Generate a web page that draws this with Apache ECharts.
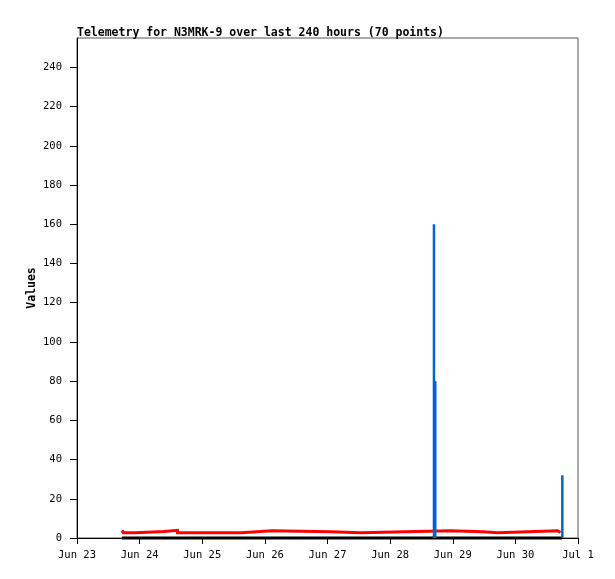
<!DOCTYPE html>
<html>
<head>
<meta charset="utf-8">
<script src="https://cdn.jsdelivr.net/npm/echarts@6/dist/echarts.min.js"></script>
<style>html,body{margin:0;padding:0;background:#fff}#c{width:615px;height:579px}</style>
</head>
<body>
<div id="c"></div>
<script>
// x values are hours since Jun 23 00:00
const xTickLabels = ['Jun 23','Jun 24','Jun 25','Jun 26','Jun 27','Jun 28','Jun 29','Jun 30','Jul 1'];
const redHours  = [17.2, 17.8, 22.5, 33.3, 38.5, 63.0, 74.8, 97.3, 108.7, 143.0, 155.6, 161.2, 184.2, 185.3];
const redValues = [3.9,  2.7,  3.3,  3.9,  2.7,  3.7,  3.2,  2.7,  3.7,   3.2,   2.7,   3.7,   2.8,   2.8];
const blackHours  = [17.2, 185.9];
const blackValues = [0, 0];
const blueHours  = [136.8, 137.3, 186.0];
const blueValues = [160, 80, 32];

// step-after: each value holds until the next sample time
function stepData(hs, vs) {
  const out = [];
  for (let i = 0; i < hs.length; i++) {
    out.push([hs[i], vs[i]]);
    if (i + 1 < hs.length) out.push([hs[i + 1], vs[i]]);
  }
  return out;
}

const mono = 'DejaVu Sans Mono';
const chart = echarts.init(document.getElementById('c'));
chart.setOption({
  animation: false,
  title: {
    text: 'Telemetry for N3MRK-9 over last 240 hours (70 points)',
    left: 72, top: 22,
    textStyle: {fontFamily: mono, fontWeight: 'bold', fontSize: 11.5, color: '#000'}
  },
  grid: {left: 77, right: 37, top: 38, bottom: 41, show: true, borderColor: '#555', borderWidth: 1},
  xAxis: {
    type: 'value', min: 0, max: 192, interval: 24,
    axisLine: {lineStyle: {color: '#000', width: 1}},
    axisTick: {length: 6, lineStyle: {color: '#000'}},
    splitLine: {show: false},
    axisLabel: {
      margin: 12, color: '#000', fontFamily: mono, fontSize: 10.5,
      formatter: v => xTickLabels[Math.round(v / 24)]
    }
  },
  yAxis: {
    type: 'value', min: 0, max: 255, interval: 20,
    name: 'Values', nameLocation: 'middle', nameGap: 39, nameMoveOverlap: false,
    nameTextStyle: {fontFamily: mono, fontWeight: 'bold', fontSize: 11.5, color: '#000'},
    axisLine: {show: true, lineStyle: {color: '#000', width: 1}},
    axisTick: {length: 7, lineStyle: {color: '#000'}},
    splitLine: {show: false},
    axisLabel: {
      margin: 15, color: '#000', fontFamily: mono, fontSize: 10.5, showMaxLabel: false,
      formatter: v => (v % 20 === 0 ? String(v) : '')
    }
  },
  series: [
    {
      type: 'line', symbol: 'none', z: 3, clip: false,
      lineStyle: {color: '#ff0000', width: 3, join: 'miter', cap: 'butt'},
      data: stepData(redHours, redValues)
    },
    {
      type: 'line', symbol: 'none', z: 4, clip: false,
      lineStyle: {color: '#000', width: 3, cap: 'butt'},
      data: blackHours.map((h, i) => [h, blackValues[i]])
    },
    {
      type: 'bar', barWidth: 2.5, z: 5,
      itemStyle: {color: '#0066cc'},
      data: blueHours.map((h, i) => [h, blueValues[i]])
    }
  ]
});
</script>
</body>
</html>
